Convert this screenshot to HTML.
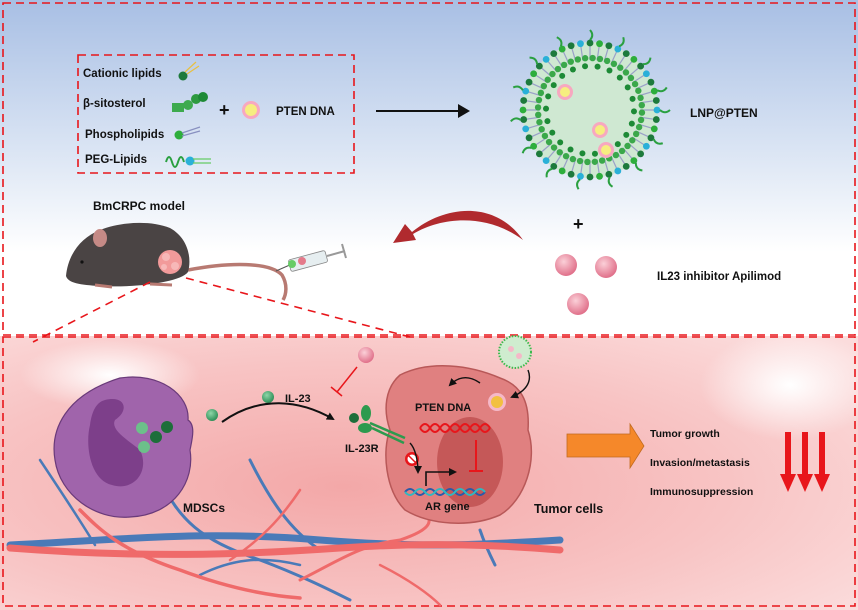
<!DOCTYPE html>
<html><head><meta charset="utf-8"><style>
html,body{margin:0;padding:0;background:#fff}
svg{display:block}
text{font-family:"Liberation Sans",sans-serif;font-weight:bold;fill:#111}
</style></head><body>
<svg id="s" width="858" height="610" viewBox="0 0 858 610" xmlns="http://www.w3.org/2000/svg">
<defs>
<linearGradient id="sky" x1="0" y1="0" x2="0" y2="1">
<stop offset="0" stop-color="#a8bfe4"/><stop offset="0.45" stop-color="#dbe5f4"/><stop offset="0.75" stop-color="#ffffff"/><stop offset="1" stop-color="#ffffff"/></linearGradient>
<radialGradient id="pink" cx="0.4" cy="0.55" r="0.75">
<stop offset="0" stop-color="#f3a8a8"/><stop offset="0.6" stop-color="#f8c4c4"/><stop offset="1" stop-color="#fbdcdc"/></radialGradient>
<radialGradient id="glow" cx="0.5" cy="0.5" r="0.5"><stop offset="0" stop-color="#fff" stop-opacity="1"/><stop offset="1" stop-color="#fff" stop-opacity="0"/></radialGradient>
<radialGradient id="ball" cx="0.4" cy="0.35" r="0.65"><stop offset="0" stop-color="#fbd0d8"/><stop offset="1" stop-color="#e0708a"/></radialGradient>
<radialGradient id="gball" cx="0.4" cy="0.35" r="0.65"><stop offset="0" stop-color="#8fd6a8"/><stop offset="1" stop-color="#2e8f58"/></radialGradient>
<marker id="ah" markerWidth="8" markerHeight="8" refX="6" refY="4" orient="auto" markerUnits="userSpaceOnUse"><path d="M0,0 L8,4 L0,8 Z" fill="#111"/></marker>
</defs>
<rect x="0" y="0" width="858" height="336" fill="url(#sky)"/>
<rect x="0" y="336" width="858" height="274" fill="url(#pink)"/>
<ellipse cx="110" cy="375" rx="90" ry="35" fill="url(#glow)"/>
<ellipse cx="790" cy="385" rx="90" ry="55" fill="url(#glow)"/>
<rect x="3" y="3" width="852" height="332" fill="none" stroke="#e8161b" stroke-width="1.6" stroke-dasharray="8,5"/>
<rect x="3" y="337" width="852" height="269" fill="none" stroke="#e8161b" stroke-width="1.6" stroke-dasharray="8,5"/>
<rect x="78" y="55" width="276" height="118" fill="none" stroke="#e8161b" stroke-width="1.6" stroke-dasharray="8,5"/>
<text x="83" y="77" font-size="11.5">Cationic lipids</text>
<text x="83" y="107" font-size="11.5">β-sitosterol</text>
<text x="85" y="138" font-size="11.5">Phospholipids</text>
<text x="85" y="163" font-size="11.5">PEG-Lipids</text>
<circle cx="183" cy="76" r="4.5" fill="#1d7a3c"/><path d="M185,72 L196,62 M187,74 L199,66" stroke="#e8c040" stroke-width="1.2"/>
<g fill="#3daa4e"><rect x="172" y="103" width="12" height="9"/><circle cx="188" cy="105" r="5"/><circle cx="196" cy="99" r="5" fill="#2d9a40"/><circle cx="203" cy="97" r="5" fill="#1d8a36"/></g>
<circle cx="179" cy="135" r="4.5" fill="#2dae3c"/><path d="M182,133 L200,127 M182,136 L200,131" stroke="#8890c0" stroke-width="1.2"/>
<path d="M166,162 q3,-10 6,0 q3,10 6,0 q3,-10 6,0" stroke="#2aa040" stroke-width="2" fill="none"/><circle cx="190" cy="161" r="4.5" fill="#2ab0d8"/><path d="M193,159 L211,159 M193,163 L211,163" stroke="#6c6" stroke-width="1.2"/>
<text x="219" y="116" font-size="18" font-weight="normal">+</text>
<circle cx="251" cy="110" r="9" fill="#f7a8c0"/><circle cx="251" cy="110" r="6" fill="#f6ee80"/>
<text x="276" y="115" font-size="11.5">PTEN DNA</text>
<line x1="376" y1="111" x2="462" y2="111" stroke="#111" stroke-width="2"/><path d="M458,104 L470,111 L458,118 Z" fill="#111"/>
<g id="lnp"><circle cx="590" cy="110" r="68" fill="#cfe8d2"/></g>
<text x="690" y="117" font-size="12">LNP@PTEN</text>
<text x="93" y="210" font-size="12">BmCRPC model</text>
<text x="573" y="230" font-size="18" font-weight="normal">+</text>
<circle cx="566" cy="265" r="11" fill="url(#ball)"/><circle cx="606" cy="267" r="11" fill="url(#ball)"/><circle cx="578" cy="304" r="11" fill="url(#ball)"/>
<text x="657" y="280" font-size="11.5">IL23 inhibitor Apilimod</text>
<path d="M523,240 C495,200 445,205 412,232 L405,224 L393,243 L416,240 L413,234 C445,215 490,215 523,240 Z" fill="#b02a2e"/>
<!-- mouse -->
<path d="M188,270 C230,262 270,262 282,275 C288,285 286,295 283,300" stroke="#b87a72" stroke-width="3.5" fill="none"/>
<path d="M66,276 C68,255 80,238 100,230 C120,222 150,220 170,228 C188,238 192,258 188,272 C180,283 130,288 100,286 C80,285 68,283 66,276 Z" fill="#4a4444"/>
<ellipse cx="100" cy="238" rx="7" ry="9" fill="#c58a86"/>
<circle cx="82" cy="262" r="1.6" fill="#111"/>
<path d="M95,285 L112,287 M150,284 L172,285" stroke="#b87a72" stroke-width="3"/>
<circle cx="170" cy="262" r="12" fill="#f29a9a"/><circle cx="166" cy="257" r="4" fill="#f7b8b8"/><circle cx="175" cy="266" r="4" fill="#f7b8b8"/><circle cx="164" cy="267" r="3" fill="#f7b8b8"/>
<!-- syringe -->
<line x1="276" y1="271" x2="292" y2="264" stroke="#555" stroke-width="1"/>
<rect x="289" y="255" width="38" height="12" rx="2" fill="#e6eef0" stroke="#888" stroke-width="0.8" transform="rotate(-15 308 261)"/>
<circle cx="292" cy="264" r="4" fill="#6c6"/><circle cx="302" cy="261" r="4" fill="#e47a8a"/>
<line x1="327" y1="256" x2="345" y2="251" stroke="#999" stroke-width="2"/><line x1="342" y1="244" x2="346" y2="258" stroke="#999" stroke-width="2"/>
<!-- zoom lines -->
<line x1="150" y1="282" x2="33" y2="342" stroke="#e8161b" stroke-width="1.6" stroke-dasharray="8,6"/>
<line x1="186" y1="278" x2="410" y2="337" stroke="#e8161b" stroke-width="1.6" stroke-dasharray="8,6"/>
<!-- vessels -->
<g fill="none" stroke-linecap="round">
<path d="M10,545 C120,540 200,530 320,540 C420,548 480,545 560,540" stroke="#4a7ab8" stroke-width="7"/>
<path d="M160,480 C180,520 200,540 260,560 C300,575 330,590 350,600" stroke="#4a7ab8" stroke-width="3"/>
<path d="M250,460 C270,500 290,530 320,550 M480,530 C485,545 490,555 495,565" stroke="#4a7ab8" stroke-width="3"/>
<path d="M40,460 C60,490 80,520 95,545 M200,575 C230,560 260,555 300,565" stroke="#4a7ab8" stroke-width="2.5"/>
<path d="M10,548 C140,558 240,555 340,548 C430,542 500,545 560,550" stroke="#ef6a6a" stroke-width="7"/>
<path d="M80,510 C100,530 120,550 180,570 C220,585 260,595 300,598" stroke="#ef6a6a" stroke-width="3.5"/>
<path d="M300,580 C340,560 360,545 400,540 C430,530 440,520 415,505" stroke="#ef6a6a" stroke-width="3"/>
<path d="M230,560 C260,540 280,520 300,490 M380,565 C410,580 430,595 440,605" stroke="#ef6a6a" stroke-width="2.5"/>
</g>
<!-- MDSC -->
<path d="M120,378 C160,372 190,395 188,420 C196,425 192,440 190,450 C195,480 175,515 130,517 C95,520 60,495 55,460 C50,430 65,395 120,378 Z" fill="#a064ab" stroke="#6a3a7a" stroke-width="1.2"/>
<path d="M105,400 C125,395 130,410 115,420 C110,430 128,440 140,450 C150,470 135,492 112,485 C90,480 85,445 90,425 C92,410 97,402 105,400 Z" fill="#7d3f8a"/>
<circle cx="142" cy="428" r="6" fill="#6cc08a"/><circle cx="167" cy="427" r="6" fill="#1d6e3a"/><circle cx="156" cy="437" r="6" fill="#1d6e3a"/><circle cx="144" cy="447" r="6" fill="#6cc08a"/>
<text x="183" y="512" font-size="12">MDSCs</text>
<circle cx="212" cy="415" r="6" fill="url(#gball)"/><circle cx="268" cy="397" r="6" fill="url(#gball)"/>
<text x="285" y="402" font-size="11">IL-23</text>
<path d="M222,422 C260,395 300,400 333,419" stroke="#111" stroke-width="2" fill="none" marker-end="url(#ah)"/>
<circle cx="366" cy="355" r="8" fill="url(#ball)"/>
<line x1="357" y1="367" x2="337" y2="392" stroke="#e8161b" stroke-width="1.5"/><line x1="331" y1="387" x2="342" y2="396" stroke="#e8161b" stroke-width="1.5"/>
<!-- tumor cell -->
<path d="M400,375 C430,360 470,365 500,378 C520,385 530,400 528,430 C538,460 525,500 500,515 C470,528 430,525 405,510 C385,490 382,450 390,430 C383,410 385,388 400,375 Z" fill="#e08080" stroke="#b85858" stroke-width="1.5"/>
<ellipse cx="470" cy="462" rx="33" ry="45" fill="#c55858"/>
<circle cx="354" cy="418" r="5" fill="#1d6e3a"/><ellipse cx="366" cy="413" rx="5" ry="8" fill="#2d9a4e"/><ellipse cx="365" cy="428" rx="7" ry="5" fill="#2d9a4e"/>
<path d="M370,423 L405,438 M372,428 L404,443" stroke="#2d9a4e" stroke-width="2.5"/>
<text x="345" y="452" font-size="11">IL-23R</text>
<text x="415" y="411" font-size="11">PTEN DNA</text>
<circle cx="497" cy="402" r="9" fill="#f5b8c8"/><circle cx="497" cy="402" r="6" fill="#f2c040"/>
<path d="M420,428 q5,-8 10,0 q5,8 10,0 q5,-8 10,0 q5,8 10,0 q5,-8 10,0 q5,8 10,0 q5,-8 10,0" stroke="#e8161b" stroke-width="2" fill="none"/>
<path d="M420,428 q5,8 10,0 q5,-8 10,0 q5,8 10,0 q5,-8 10,0 q5,8 10,0 q5,-8 10,0 q5,8 10,0" stroke="#e8161b" stroke-width="2" fill="none"/>
<line x1="476" y1="440" x2="476" y2="470" stroke="#e8161b" stroke-width="2"/><line x1="469" y1="471" x2="483" y2="471" stroke="#e8161b" stroke-width="2"/>
<circle cx="412" cy="459" r="7" fill="#e8161b"/><circle cx="412" cy="459" r="4.5" fill="#fff"/><line x1="408" y1="455" x2="416" y2="463" stroke="#e8161b" stroke-width="1.5"/>
<path d="M410,443 C415,448 418,460 418,472" stroke="#111" stroke-width="1.4" fill="none" marker-end="url(#ah)"/>
<path d="M426,486 L426,472 L455,472" stroke="#111" stroke-width="1.6" fill="none" marker-end="url(#ah)"/>
<path d="M405,492 q5,-6 10,0 q5,6 10,0 q5,-6 10,0 q5,6 10,0 q5,-6 10,0 q5,6 10,0 q5,-6 10,0 q5,6 10,0" stroke="#2a5aa8" stroke-width="2" fill="none"/>
<path d="M405,492 q5,6 10,0 q5,-6 10,0 q5,6 10,0 q5,-6 10,0 q5,6 10,0 q5,-6 10,0 q5,6 10,0 q5,-6 10,0" stroke="#30b8c0" stroke-width="2" fill="none"/>
<text x="425" y="510" font-size="11">AR gene</text>
<path d="M480,383 C470,376 460,375 450,385" stroke="#111" stroke-width="1.4" fill="none" marker-end="url(#ah)"/>
<path d="M528,370 C532,380 528,390 512,397" stroke="#111" stroke-width="1.4" fill="none" marker-end="url(#ah)"/>
<g><circle cx="515" cy="352" r="16" fill="#cfeccf" stroke="#3cb84c" stroke-width="2" stroke-dasharray="1.5,1.5"/><circle cx="511" cy="349" r="3" fill="#f5b8c8"/><circle cx="519" cy="356" r="3" fill="#f5b8c8"/></g>
<text x="534" y="513" font-size="12.5">Tumor cells</text>
<path d="M567,434 L630,434 L630,424 L644,446 L630,468 L630,457 L567,457 Z" fill="#f5882a" stroke="#c06a20" stroke-width="0.8"/>
<text x="650" y="437" font-size="10.5">Tumor growth</text>
<text x="650" y="466" font-size="10.5">Invasion/metastasis</text>
<text x="650" y="495" font-size="10.5">Immunosuppression</text>
<g fill="#e8161b">
<rect x="785" y="432" width="6" height="44"/><path d="M780,474 L796,474 L788,492 Z"/>
<rect x="802" y="432" width="6" height="44"/><path d="M797,474 L813,474 L805,492 Z"/>
<rect x="819" y="432" width="6" height="44"/><path d="M814,474 L830,474 L822,492 Z"/>
</g>
</svg>
<script>
(function(){
var g=document.getElementById('lnp'),cx=590,cy=110,h='';
for(var i=0;i<44;i++){var a=i/44*2*Math.PI,x=cx+67*Math.cos(a),y=cy+67*Math.sin(a);
 var c=(i%4==0)?'#2ab0d8':(i%2?'#1d7a3c':'#2dae3c');
 h+='<line x1="'+x+'" y1="'+y+'" x2="'+(cx+50*Math.cos(a))+'" y2="'+(cy+50*Math.sin(a))+'" stroke="#9aa0c8" stroke-width="1.2"/>';
 h+='<circle cx="'+(cx+52*Math.cos(a+0.05))+'" cy="'+(cy+52*Math.sin(a+0.05))+'" r="3.2" fill="#3aa84a"/>';
 if(i%2==0) h+='<circle cx="'+(cx+44*Math.cos(a+0.03))+'" cy="'+(cy+44*Math.sin(a+0.03))+'" r="3" fill="#1d8a36"/>';
 h+='<circle cx="'+x+'" cy="'+y+'" r="3.4" fill="'+c+'"/>';
 if(i%3==0){var x2=cx+80*Math.cos(a),y2=cy+80*Math.sin(a);
 h+='<path d="M'+(cx+70*Math.cos(a))+','+(cy+70*Math.sin(a))+' Q'+(cx+75*Math.cos(a+0.06))+','+(cy+75*Math.sin(a+0.06))+' '+x2+','+y2+'" stroke="#2aa040" stroke-width="2" fill="none"/>';}}
[[565,92],[600,130],[606,150]].forEach(function(p){h+='<circle cx="'+p[0]+'" cy="'+p[1]+'" r="8" fill="#f7a8c0"/><circle cx="'+p[0]+'" cy="'+p[1]+'" r="5" fill="#f6ee80"/>';});
g.innerHTML+=h;
})();
</script>
</body></html>
